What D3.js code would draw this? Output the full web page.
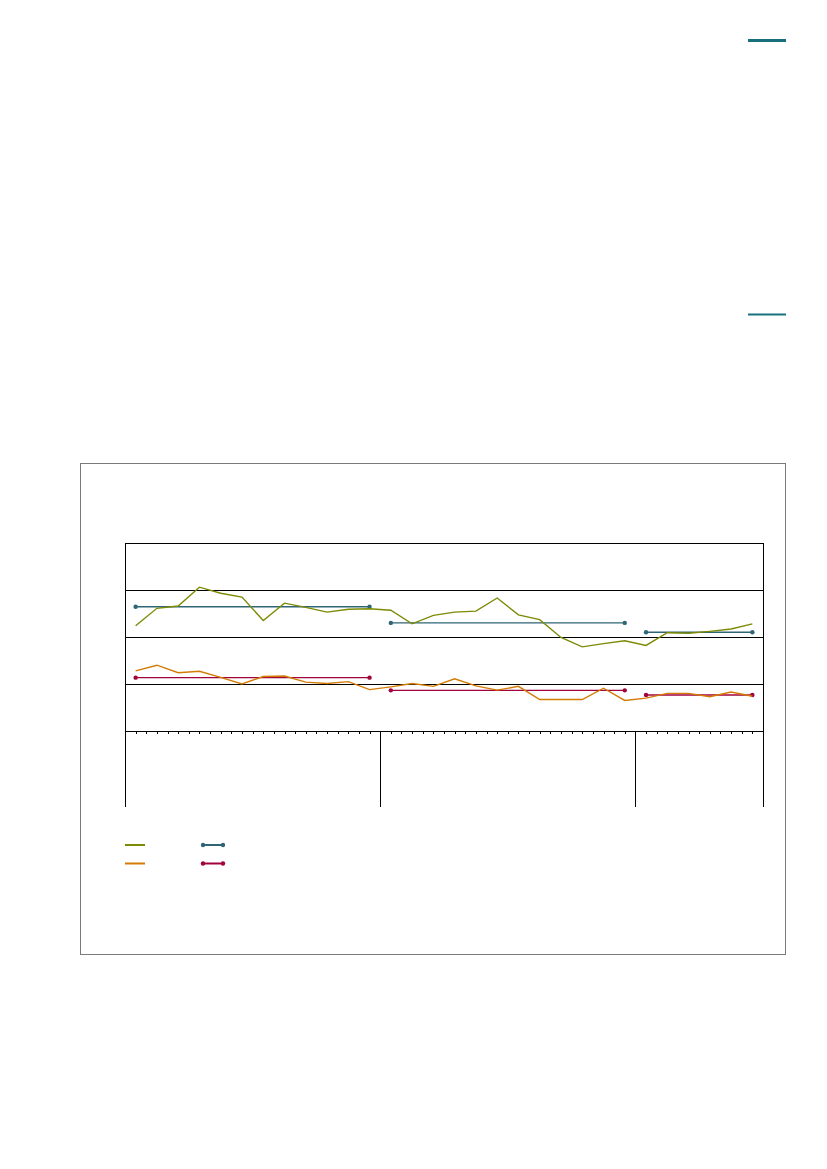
<!DOCTYPE html>
<html>
    <head>
        <meta charset="utf-8">
        <style>
        body {
            margin: 0;
            background: white;
        }
        svg {
            display: block;
        }
        .grid .tick line {
            stroke: black;
            shape-rendering: crispEdges;
        }
        .grid .domain {
            display: none;
        }
        .x .tick line {
            stroke: black;
            shape-rendering: crispEdges;
        }
        .x .domain {
            display: none;
        }
        .crisp {
            shape-rendering: crispEdges;
        }
        </style>
    </head>
    <body>
        <div id="chart"></div>
        <script src="https://d3js.org/d3.v7.min.js"></script>
        <script>

            // one point every other slot, three periods of 12, 12 and 6 points
            let periodBounds = [0, 24, 48, 60]
            let gridTicks = [1, 2, 3]

            let greenValues = [2.24, 2.61, 2.66, 3.06, 2.93, 2.85, 2.35, 2.72, 2.63, 2.53, 2.59, 2.60,
                               2.57, 2.28, 2.46, 2.53, 2.55, 2.83, 2.47, 2.37, 1.99, 1.79, 1.86, 1.92,
                               1.82, 2.09, 2.08, 2.12, 2.17, 2.28]
            let orangeValues = [1.28, 1.40, 1.24, 1.27, 1.14, 1.00, 1.16, 1.17, 1.04, 1.01, 1.05, 0.88,
                                0.94, 1.01, 0.95, 1.11, 0.96, 0.87, 0.95, 0.67, 0.67, 0.67, 0.91, 0.65,
                                0.70, 0.80, 0.80, 0.73, 0.83, 0.74]
            let blueMeans = [2.645, 2.30, 2.10]
            let redMeans = [1.135, 0.865, 0.766]

            let green = "#7d8a04"
            let orange = "#d47b05"
            let blue = "#2e6577"
            let red = "#a2023c"
            let teal = "#18707e"

            let width = 827
            let height = 1169

            let svg = d3.select("#chart")
                .append("svg")
                .attr("width", width)
                .attr("height", height)

            let margin = {top: 543, right: 64, bottom: 438, left: 125}
            let plotBottom = height - margin.bottom

            // figure frame
            svg.append("rect")
                .attr("class", "crisp")
                .attr("x", 80.5)
                .attr("y", 463.5)
                .attr("width", 705)
                .attr("height", 491)
                .attr("fill", "none")
                .attr("stroke", "#7a7a7a")

            // little marks up in the corner
            svg.append("line")
                .attr("x1", 748).attr("x2", 786)
                .attr("y1", 40.5).attr("y2", 40.5)
                .attr("stroke", teal)
                .attr("stroke-width", 3)
            svg.append("line")
                .attr("x1", 748).attr("x2", 786)
                .attr("y1", 314.5).attr("y2", 314.5)
                .attr("stroke", teal)
                .attr("stroke-width", 2)

            let x = d3.scaleLinear()
                .domain([0, 60])
                .range([margin.left, width - margin.right])

            let y = d3.scaleLinear()
                .domain([0, 4])
                .range([plotBottom, margin.top])

            let px = i => x(2 * i + 1)

            let gridSettings = d3.axisLeft(y)
                .tickValues(gridTicks)
                .tickSize(-(x(60) - x(0)))
                .tickFormat("")

            svg.append("g")
                .attr("class", "grid")
                .attr("transform", `translate(${x(0)}, 0)`)
                .call(gridSettings)

            let xAxisSettings = d3.axisBottom(x)
                .tickValues(d3.range(1, 60))
                .tickSize(3)
                .tickFormat("")

            svg.append("g")
                .attr("class", "x axis")
                .attr("transform", `translate(0, ${plotBottom})`)
                .call(xAxisSettings)

            // plot box
            svg.append("rect")
                .attr("class", "crisp")
                .attr("x", x(0))
                .attr("y", y(4))
                .attr("width", x(60) - x(0))
                .attr("height", y(0) - y(4))
                .attr("fill", "none")
                .attr("stroke", "black")

            // period separators below the axis
            svg.append("g")
                .attr("class", "crisp")
                .selectAll("line")
                .data(periodBounds)
                .join("line")
                .attr("x1", d => x(d))
                .attr("x2", d => x(d))
                .attr("y1", plotBottom)
                .attr("y2", plotBottom + 76)
                .attr("stroke", "black")

            let line = d3.line()
                .x((d, i) => px(i))
                .y(d => y(d))

            // period means with end dots
            function drawMeans(means, color) {
                let g = svg.append("g")
                means.forEach((m, k) => {
                    let i0 = periodBounds[k] / 2
                    let i1 = periodBounds[k + 1] / 2 - 1
                    g.append("line")
                        .attr("x1", px(i0))
                        .attr("x2", px(i1))
                        .attr("y1", y(m))
                        .attr("y2", y(m))
                        .attr("stroke", color)
                        .attr("stroke-width", 1.4)
                    g.selectAll(null)
                        .data([i0, i1])
                        .join("circle")
                        .attr("cx", d => px(d))
                        .attr("cy", y(m))
                        .attr("r", 2.2)
                        .attr("fill", color)
                })
            }

            drawMeans(blueMeans, blue)
            drawMeans(redMeans, red)

            svg.append("path")
                .datum(greenValues)
                .attr("d", line)
                .attr("fill", "none")
                .attr("stroke", green)
                .attr("stroke-width", 1.4)

            svg.append("path")
                .datum(orangeValues)
                .attr("d", line)
                .attr("fill", "none")
                .attr("stroke", orange)
                .attr("stroke-width", 1.4)

            // legend, no labels in the reference
            let legend = svg.append("g")
            let legendItems = [
                {color: green, x: 125, y: 845, dots: false},
                {color: orange, x: 125, y: 863.5, dots: false},
                {color: blue, x: 203, y: 845, dots: true},
                {color: red, x: 203, y: 863.5, dots: true}
            ]
            legendItems.forEach(d => {
                legend.append("line")
                    .attr("x1", d.x).attr("x2", d.x + 20)
                    .attr("y1", d.y).attr("y2", d.y)
                    .attr("stroke", d.color)
                    .attr("stroke-width", 2)
                if (d.dots) {
                    legend.selectAll(null)
                        .data([d.x, d.x + 20])
                        .join("circle")
                        .attr("cx", c => c)
                        .attr("cy", d.y)
                        .attr("r", 2.2)
                        .attr("fill", d.color)
                }
            })

        </script>
    </body>
</html>
